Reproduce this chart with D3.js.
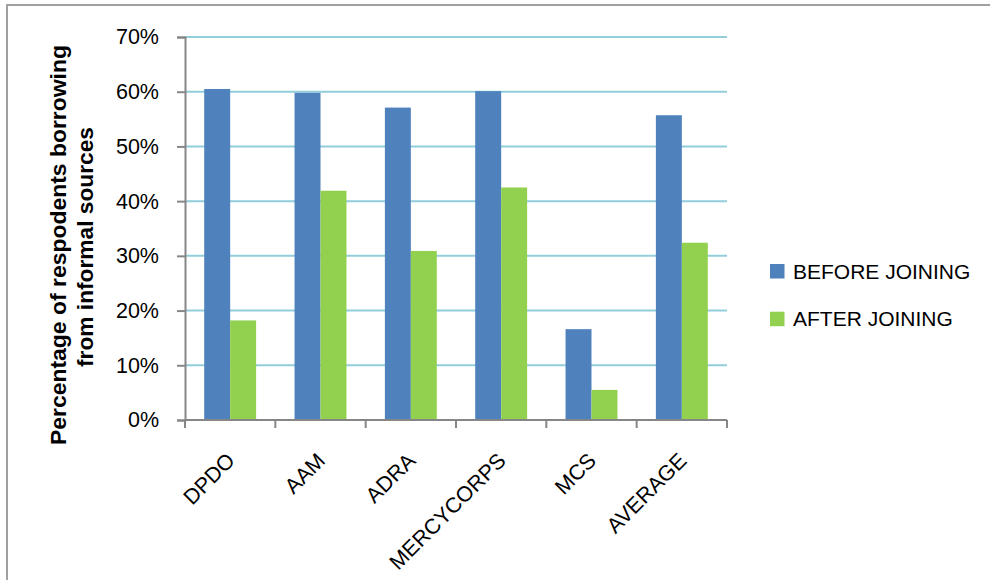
<!DOCTYPE html>
<html>
<head>
<meta charset="utf-8">
<script src="https://cdn.jsdelivr.net/npm/d3@7"></script>
<style>
  html, body { margin: 0; padding: 0; background: #fff; }
  svg { display: block; font-family: "Liberation Sans", Arial, sans-serif; }
</style>
</head>
<body>
<svg id="chart" width="990" height="580"></svg>
<script>
const categories = ["DPDO", "AAM", "ADRA", "MERCYCORPS", "MCS", "AVERAGE"];
const seriesNames = ["BEFORE JOINING", "AFTER JOINING"];
const beforeJoining = [0.605, 0.598, 0.571, 0.601, 0.166, 0.557];
const afterJoining = [0.182, 0.419, 0.309, 0.425, 0.055, 0.324];
const yTicks = [0, 0.1, 0.2, 0.3, 0.4, 0.5, 0.6, 0.7];
const colors = ["#4F81BD", "#92D050"];
const yTitleLines = ["Percentage of respodents borrowing", "from informal sources"];

const svg = d3.select("#chart");

// outer frame
svg.append("rect").attr("x", 7).attr("y", 5).attr("width", 1100).attr("height", 700)
  .attr("fill", "none").attr("stroke", "#A0A0A0").attr("stroke-width", 2);

const plot = { left: 185, right: 727, top: 37, bottom: 420 };

const x = d3.scaleBand().domain(categories).range([plot.left, plot.right]).paddingInner(0).paddingOuter(0);
const y = d3.scaleLinear().domain([0, 0.7]).range([plot.bottom, plot.top]);
const bandW = x.bandwidth();
const x1 = d3.scaleBand().domain(seriesNames).range([0, bandW]).paddingInner(0).paddingOuter(0.74);

// gridlines
svg.append("g").selectAll("line").data(yTicks.filter(d => d > 0)).join("line")
  .attr("x1", plot.left).attr("x2", plot.right)
  .attr("y1", d => y(d)).attr("y2", d => y(d))
  .attr("stroke", "#92CDDC").attr("stroke-width", 2);

// bars
const data = categories.map((c, i) => ({ c, vals: [beforeJoining[i], afterJoining[i]] }));
svg.append("g").selectAll("g").data(data).join("g")
  .attr("transform", d => `translate(${x(d.c)},0)`)
  .selectAll("rect").data(d => d.vals.map((v, j) => ({ v, s: seriesNames[j], j })))
  .join("rect")
  .attr("x", d => x1(d.s)).attr("width", x1.bandwidth())
  .attr("y", d => y(d.v)).attr("height", d => y(0) - y(d.v))
  .attr("fill", d => colors[d.j]);

// y axis
const yAxis = svg.append("g").attr("transform", `translate(${plot.left},0)`)
  .call(d3.axisLeft(y).tickValues(yTicks).tickFormat(d3.format(".0%")).tickSize(8).tickPadding(18));
yAxis.select(".domain").attr("stroke", "#868686").attr("stroke-width", 2);
yAxis.selectAll(".tick line").attr("stroke", "#868686").attr("stroke-width", 2);
yAxis.selectAll(".tick text").attr("font-size", 21.5).attr("fill", "#000")
  .attr("font-family", "'Liberation Sans', Arial, sans-serif");

// x axis
const xAxisG = svg.append("g").attr("transform", `translate(0,${plot.bottom})`);
xAxisG.append("line").attr("x1", plot.left).attr("x2", plot.right).attr("y1", 0).attr("y2", 0)
  .attr("stroke", "#868686").attr("stroke-width", 2);
const boundaries = categories.map(c => x(c)).concat([x(categories[categories.length - 1]) + bandW]);
xAxisG.selectAll("line.tk").data(boundaries).join("line").attr("class", "tk")
  .attr("x1", d => d).attr("x2", d => d).attr("y1", 0).attr("y2", 8)
  .attr("stroke", "#868686").attr("stroke-width", 2);

svg.append("g").selectAll("text").data(categories).join("text")
  .attr("transform", d => `translate(${x(d) + bandW / 2 + 6},${plot.bottom + 42}) rotate(-45)`)
  .attr("text-anchor", "end")
  .attr("font-size", 21.5)
  .attr("fill", "#000")
  .text(d => d);

// y title
const titleLens = [400, 240];
const yTitle = svg.append("text")
  .attr("transform", `translate(66,245) rotate(-90)`)
  .attr("font-weight", "bold")
  .attr("font-size", 22)
  .attr("fill", "#000");
yTitle.selectAll("tspan").data(yTitleLines).join("tspan")
  .attr("x", (d, i) => -titleLens[i] / 2 + (i === 0 ? 0 : -2))
  .attr("y", (d, i) => i * 27)
  .attr("textLength", (d, i) => titleLens[i])
  .attr("lengthAdjust", "spacingAndGlyphs")
  .text(d => d);

// legend
const legend = svg.append("g").selectAll("g").data(seriesNames).join("g")
  .attr("transform", (d, i) => `translate(770,${264 + i * 47.7})`);
legend.append("rect").attr("width", 14.5).attr("height", 14.5).attr("fill", (d, i) => colors[i]);
legend.append("text").attr("x", 23).attr("y", 14.5).attr("font-size", 21).attr("fill", "#000").text(d => d);
</script>
</body>
</html>
